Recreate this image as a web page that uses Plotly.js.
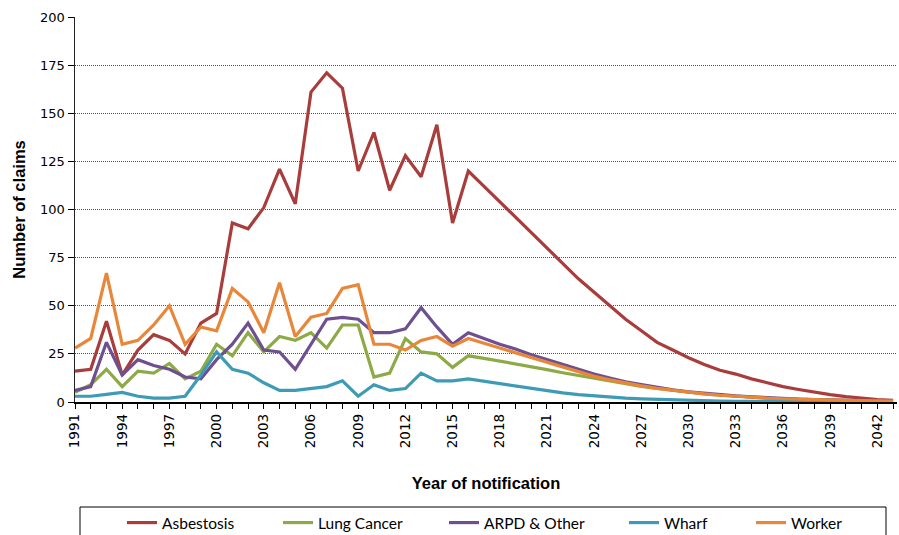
<!DOCTYPE html>
<html>
<head>
<meta charset="utf-8">
<script src="https://cdn.plot.ly/plotly-3.0.1.min.js"></script>
<style>html,body{margin:0;padding:0;background:#fff;}#chart{width:899px;height:535px;}</style>
</head>
<body>
<div id="chart"></div>
<script>
var years = [];
for (var y = 1991; y <= 2043; y++) years.push(y);

var asbestosis = [16,17,42,14,27,35,32,25,41,46,93,90,101,121,103,161,171,163,120,140,110,128,117,144,93,120,
  112,104,96,88,80,72,64,57,50,43,37,31,27,23,19.5,16.5,14.5,12,10,8,6.5,5,3.8,2.8,1.9,1.3,0.8];
var lungCancer = [5,9,17,8,16,15,20,12,16,30,24,36,26,34,32,36,28,40,40,13,15,33,26,25,18,24,
  22.7,21.3,19.8,18.3,16.8,15.2,13.7,12.2,10.8,9.4,8.1,7,6,5,4.2,3.5,2.9,2.4,2,1.6,1.3,1.1,0.9,0.7,0.6,0.5,0.4];
var arpd = [6,8,31,14,22,19,17,13,12,22,30,41,27,26,17,30,43,44,43,36,36,38,49,39,30,36,
  33,30,27.5,24.5,22,19.5,17,14.5,12.5,10.5,9,7.5,6.3,5.3,4.5,3.8,3.2,2.7,2.2,1.8,1.5,1.3,1.1,0.9,0.7,0.6,0.5];
var wharf = [3,3,4,5,3,2,2,3,14,26,17,15,10,6,6,7,8,11,3,9,6,7,15,11,11,12,
  10.8,9.4,8,6.8,5.7,4.7,3.8,3.1,2.5,2,1.6,1.3,1,0.8,0.6,0.5,0.4,0.3,0.25,0.2,0.15,0.1,0.1,0.1,0.05,0.05,0.05];
var worker = [28,33,67,30,32,40,50,30,39,37,59,52,36,62,34,44,46,59,61,30,30,27,32,34,29,33,
  30.5,28,25.5,23,20.5,18,15.5,13.3,11.5,9.8,8.4,7.1,6,5,4.2,3.5,2.9,2.4,2,1.7,1.4,1.2,1,0.8,0.7,0.6,0.5];

var seriesNames = ['Asbestosis','Lung Cancer','ARPD & Other','Wharf','Worker'];
var seriesData = [asbestosis, lungCancer, arpd, wharf, worker];
var colors = ['#A83D3B','#8DAA46','#6E5090','#3D9BB6','#E8873A'];
var legendKeys = ['legend','legend2','legend3','legend4','legend5'];
var legendX = [127,283,449,629,756];

var traces = seriesNames.map(function(n,i){
  return {x: years, y: seriesData[i], name: n, type:'scatter', mode:'lines',
    line:{color:colors[i], width:3.2}, legend: legendKeys[i], hoverinfo:'x+y+name'};
});

var W = 899, H = 535;
var L = 75, R = 897, T = 17, B = 402;
var layout = {
  width: W, height: H,
  margin: {l: L, r: W-R, t: T, b: H-B, autoexpand:false},
  paper_bgcolor:'#fff', plot_bgcolor:'#fff',
  font: {family:'DejaVu Sans, Verdana, sans-serif', size: 12, color:'#000'},
  showlegend: true,
  xaxis: {
    range:[1991, 2043.25], tick0:1991, dtick:3, tickmode:'linear',
    ticks:'outside', ticklen:5, tickcolor:'#000', tickwidth:1,
    tickangle:-90, tickfont:{family:'DejaVu Sans, Verdana, sans-serif', size:13.5},
    minor:{dtick:1, tick0:1991, ticks:'outside', ticklen:5, tickcolor:'#000', tickwidth:1, showgrid:false},
    showgrid:false, zeroline:false, showline:true, linecolor:'#000', linewidth:1.5,
    title:{text:'Year of notification', font:{family:'Liberation Sans, Arial, sans-serif', size:16.5, color:'#000', weight:'bold'}, standoff: 30},
    automargin:false, fixedrange:true
  },
  yaxis: {
    range:[0,200], dtick:25, tick0:0, tickmode:'linear',
    ticks:'outside', ticklen:6, tickcolor:'#000', tickwidth:1,
    tickfont:{family:'DejaVu Sans, Verdana, sans-serif', size:13},
    showgrid:true, gridcolor:'#555', griddash:'1px,1px', gridwidth:1,
    zeroline:false, showline:true, linecolor:'#222', linewidth:1.5,
    title:{text:'Number of claims', font:{family:'Liberation Sans, Arial, sans-serif', size:16.5, color:'#000', weight:'bold'}, standoff: 10},
    automargin:false, fixedrange:true
  },
  shapes: [{type:'rect', xref:'paper', yref:'paper',
    x0:(80-L)/(R-L), x1:(886-L)/(R-L), y0:(B-507)/(B-T), y1:(B-545)/(B-T),
    line:{color:'#000', width:1}, fillcolor:'rgba(0,0,0,0)'}]
};
legendKeys.forEach(function(k,i){
  layout[k] = {x:(legendX[i]-5)/W, xref:'container', xanchor:'left',
    y:1-523/H, yref:'container', yanchor:'middle',
    orientation:'h', bgcolor:'rgba(0,0,0,0)', borderwidth:0,
    font:{family:'Lato, Open Sans, sans-serif', size:15.5, color:'#000'}, itemwidth:30};
});

Plotly.newPlot('chart', traces, layout, {displayModeBar:false, staticPlot:true});
</script>
</body>
</html>
